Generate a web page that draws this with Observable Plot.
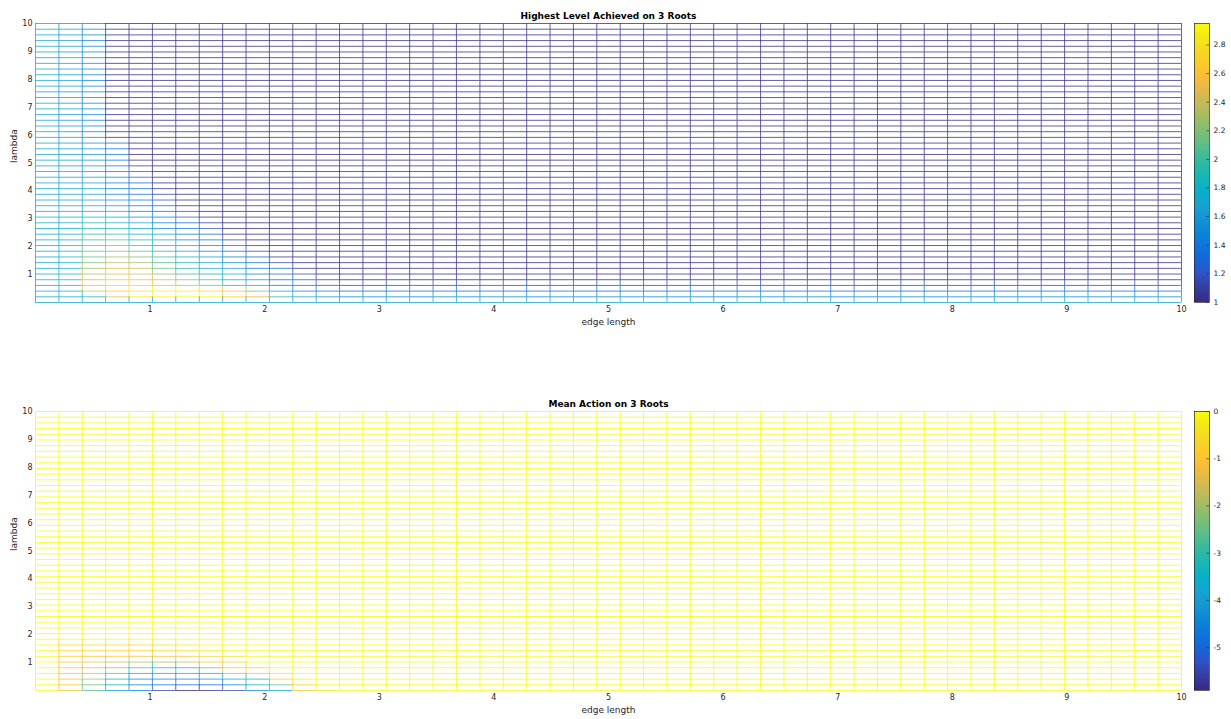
<!DOCTYPE html>
<html>
<head>
<meta charset="utf-8">
<script src="https://cdn.jsdelivr.net/npm/d3@7"></script>
<script src="https://cdn.jsdelivr.net/npm/@observablehq/plot@0.6"></script>
<style>
  body { margin: 0; background: #fff; }
  #wrap { position: relative; width: 1231px; height: 719px; font-family: "DejaVu Sans", sans-serif; }
  #wrap > div { position: absolute; }
</style>
</head>
<body>
<div id="wrap"></div>
<script>
// Grid coordinates (50 samples on each axis)
const edgeLength = [0, 0.204, 0.408, 0.612, 0.816, 1.020, 1.224, 1.429, 1.633, 1.837,
  2.041, 2.245, 2.449, 2.653, 2.857, 3.061, 3.265, 3.469, 3.673, 3.878,
  4.082, 4.286, 4.490, 4.694, 4.898, 5.102, 5.306, 5.510, 5.714, 5.918,
  6.122, 6.327, 6.531, 6.735, 6.939, 7.143, 7.347, 7.551, 7.755, 7.959,
  8.163, 8.367, 8.571, 8.776, 8.980, 9.184, 9.388, 9.592, 9.796, 10];
const lambda = edgeLength.slice();

// Highest level achieved: each row (by lambda index) lists its leading values,
// the rest of the row holds levelTail; rows past the list repeat the last row.
const levelRows = [
  [1.72],
  [1.72, 1.75, 1.9, 2.5, 2.85, 2.92, 2.95, 2.92, 2.7, 2.5, 1.95, 1.75, 1.55],
  [1.72, 1.8, 2.45, 2.65, 2.8, 2.9, 2.9, 2.8, 2.55, 2.2, 1.75, 1.45, 1.4],
  [1.72, 1.85, 2.5, 2.7, 2.7, 2.55, 2.4, 2.15, 1.85, 1.7, 1.4, 1.35, 1.2],
  [1.72, 1.85, 2.45, 2.65, 2.6, 2.45, 2.3, 2.05, 1.8, 1.6, 1.35, 1.3, 1.1],
  [1.72, 1.85, 2.35, 2.5, 2.45, 2.2, 2.0, 1.8, 1.7, 1.45, 1.35, 1.15],
  [1.72, 1.85, 2.3, 2.45, 2.4, 2.15, 1.95, 1.75, 1.65, 1.4, 1.3, 1.05],
  [1.72, 1.8, 2.2, 2.35, 2.3, 2.05, 1.85, 1.7, 1.45, 1.35, 1.15],
  [1.72, 1.8, 2.15, 2.3, 2.2, 2.0, 1.8, 1.65, 1.4, 1.3, 1.05],
  [1.72, 1.8, 2.1, 2.25, 2.1, 1.9, 1.75, 1.5, 1.35, 1.15],
  [1.72, 1.78, 2.05, 2.2, 2.0, 1.8, 1.7, 1.45, 1.3, 1.05],
  [1.72, 1.78, 2.0, 2.1, 1.9, 1.75, 1.5, 1.4, 1.15],
  [1.72, 1.75, 1.95, 2.0, 1.85, 1.7, 1.45, 1.35, 1.05],
  [1.72, 1.72, 1.9, 1.95, 1.75, 1.5, 1.4, 1.2],
  [1.72, 1.7, 1.85, 1.85, 1.7, 1.45, 1.35, 1.1],
  [1.72, 1.7, 1.8, 1.75, 1.5, 1.4, 1.2],
  [1.72, 1.7, 1.75, 1.7, 1.45, 1.35, 1.15],
  [1.72, 1.7, 1.72, 1.6, 1.42, 1.3, 1.05],
  [1.72, 1.68, 1.7, 1.55, 1.4, 1.2],
  [1.72, 1.68, 1.68, 1.5, 1.38, 1.1],
  [1.72, 1.66, 1.66, 1.48, 1.35, 1.05],
  [1.72, 1.66, 1.65, 1.45, 1.3],
  [1.72, 1.65, 1.62, 1.45, 1.25],
  [1.72, 1.65, 1.6, 1.42, 1.2],
  [1.72, 1.64, 1.6, 1.42, 1.1],
  [1.72, 1.64, 1.58, 1.4, 1.05],
  [1.72, 1.63, 1.56, 1.38],
  [1.72, 1.63, 1.55, 1.38],
  [1.72, 1.62, 1.52, 1.35],
  [1.72, 1.6, 1.48]
];
const levelTail = [1.72, 1.5, 1.35, 1.15, 1, 1, 1, 1, 1, 1, 1, 1, 1, 1, 1,
  1, 1, 1, 1, 1, 1, 1, 1, 1, 1, 1, 1, 1, 1, 1];

// Mean action: same layout, rows past the list are 0
const actionRows = [
  [0, -0.9, -2.6, -4.2, -4.5, -5.5, -5.91, -5.8, -5.5, -4.3, -3.6, -0.9, -0.2],
  [0, -0.9, -2.4, -3.6, -4.6, -4.8, -5.0, -5.0, -4.6, -3.6, -2.6, -0.8, -0.1],
  [0, -0.9, -1.9, -3.3, -4.3, -4.4, -4.4, -4.2, -3.6, -3.2, -0.9, -0.2],
  [0, -0.9, -1.7, -2.6, -3.6, -3.8, -3.7, -3.5, -1.8, -1.0, -0.5],
  [0, -0.9, -1.4, -2.0, -2.7, -3.2, -3.2, -2.2, -1.0, -0.8],
  [0, -0.9, -1.1, -1.6, -1.8, -1.9, -1.6, -1.0, -0.8],
  [0, -0.8, -0.9, -0.9, -1.0, -1.0, -0.9, -0.7, -0.4],
  [0, -0.7, -0.7, -0.8, -0.8, -0.7, -0.6, -0.2],
  [0, -0.6, -0.6, -0.6, -0.6, -0.5, -0.3],
  [0]
];
const actionTail = [0, 0, 0, 0, 0, 0, 0, 0, 0, 0];

const axisTicks = [1, 2, 3, 4, 5, 6, 7, 8, 9, 10];
const levelTicks = [1, 1.2, 1.4, 1.6, 1.8, 2, 2.2, 2.4, 2.6, 2.8];
const actionTicks = [0, -1, -2, -3, -4, -5];

// parula colormap stops
const parula = ["#352a87", "#363d9f", "#3151c7", "#1565d9", "#0d75dc", "#0a86d7", "#1595d4",
  "#17a3cf", "#08aeca", "#19b6b6", "#2dbaa1", "#52bd8e", "#74be79", "#96bd68", "#bbba5b",
  "#dbb94c", "#f7bb3b", "#fdc82b", "#f6d822", "#f4e814", "#f9fb0e"];
const parulaInterp = d3.piecewise(d3.interpolateRgb, parula);

function buildGrid(rows, tail) {
  return lambda.map((_, j) => {
    const k = Math.min(j, rows.length - 1);
    const r = rows[k];
    return edgeLength.map((_, i) => (i < r.length ? r[i] : tail[k]));
  });
}

function meshSegments(Z) {
  const h = [], v = [];
  for (let j = 0; j < lambda.length; j++) {
    for (let i = 0; i < edgeLength.length; i++) {
      const z = Z[j][i];
      if (i < edgeLength.length - 1) h.push({x1: edgeLength[i], x2: edgeLength[i + 1], y: lambda[j], z});
      if (j < lambda.length - 1) v.push({x: edgeLength[i], y1: lambda[j], y2: lambda[j + 1], z});
    }
  }
  return {h, v};
}

const fontStyle = {fontFamily: "DejaVu Sans, sans-serif", fontSize: "8px", color: "#262626", background: "transparent", overflow: "visible"};

function panel(top, title, Z, ticks) {
  const ext = d3.extent(Z.flat());
  const color = {type: "linear", domain: ext, interpolate: () => parulaInterp};
  const {h, v} = meshSegments(Z);
  const wrap = document.getElementById("wrap");

  const main = Plot.plot({
    width: 1190, height: 330,
    marginLeft: 35, marginRight: 9, marginTop: 23, marginBottom: 28,
    style: fontStyle,
    x: {domain: [0, 10]},
    y: {domain: [0, 10]},
    color,
    marks: [
      Plot.ruleY(h, {y: "y", x1: "x1", x2: "x2", stroke: "z", strokeWidth: 0.9, strokeOpacity: 0.85}),
      Plot.ruleX(v, {x: "x", y1: "y1", y2: "y2", stroke: "z", strokeWidth: 0.9, strokeOpacity: 0.85}),
      Plot.axisX({ticks: axisTicks, tickSize: 0, tickPadding: 4, label: null, fontSize: 8}),
      Plot.axisY({ticks: axisTicks, tickSize: 0, tickPadding: 3, label: null, fontSize: 8}),
      Plot.text([title], {frameAnchor: "top", lineAnchor: "middle", dy: -7, fontWeight: "bold", fontSize: 9, fill: "#000"}),
      Plot.text(["edge length"], {frameAnchor: "bottom", lineAnchor: "middle", dy: 20, fontSize: 9, fill: "#262626"}),
      Plot.text(["lambda"], {frameAnchor: "left", lineAnchor: "middle", dx: -21, rotate: -90, fontSize: 9, fill: "#262626"})
    ]
  });
  const d1 = document.createElement("div");
  d1.style.left = "0px"; d1.style.top = top + "px";
  d1.appendChild(main);
  wrap.appendChild(d1);

  // colour bar: a fine ramp over the colour scale's domain
  const n = 280;
  const steps = d3.range(n).map(k => ({
    a: ext[0] + (ext[1] - ext[0]) * k / n,
    b: ext[0] + (ext[1] - ext[0]) * (k + 1) / n
  }));
  const bar = Plot.plot({
    width: 41, height: 330,
    marginLeft: 4, marginRight: 22, marginTop: 23, marginBottom: 28,
    style: fontStyle,
    x: {domain: [0, 1], axis: null},
    y: {domain: ext, axis: null},
    color,
    marks: [
      Plot.rect(steps, {x1: 0, x2: 1, y1: "a", y2: "b", fill: d => (d.a + d.b) / 2, shapeRendering: "crispEdges"}),
      Plot.ruleY(ticks, {y: d => d, x1: 0.82, x2: 1, stroke: "#262626", strokeWidth: 0.6}),
      Plot.frame({stroke: "#262626", strokeWidth: 0.7}),
      Plot.text(ticks, {y: d => d, frameAnchor: "right", dx: 4, textAnchor: "start", text: d => String(d), fontSize: 7.5, fill: "#262626"})
    ]
  });
  const d2 = document.createElement("div");
  d2.style.left = "1190px"; d2.style.top = top + "px";
  d2.appendChild(bar);
  wrap.appendChild(d2);
}

panel(0, "Highest Level Achieved on 3 Roots", buildGrid(levelRows, levelTail), levelTicks);
panel(388, "Mean Action on 3 Roots", buildGrid(actionRows, actionTail), actionTicks);
</script>
</body>
</html>
